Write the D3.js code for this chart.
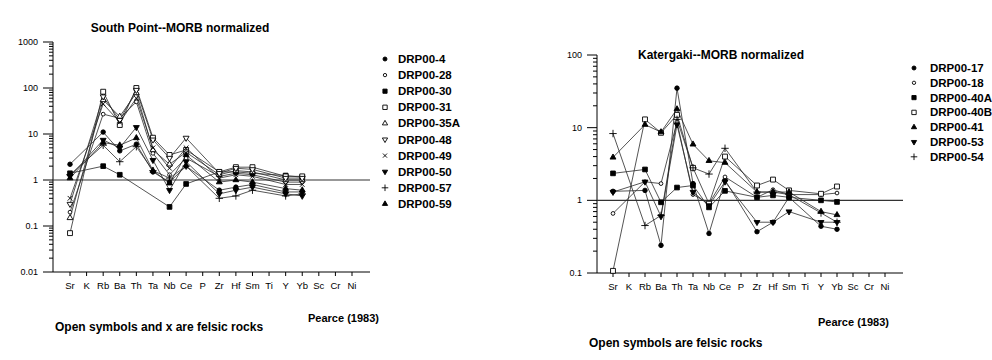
<!DOCTYPE html>
<html>
<head>
<meta charset="utf-8">
<script src="https://cdn.jsdelivr.net/npm/d3@7"></script>
<style>
  body { margin: 0; background: #fff; }
  text { font-family: "Liberation Sans", Arial, sans-serif; fill: #000; }
</style>
</head>
<body>
<div id="chart"></div>
<script>
// Element order along the x axis
const elements = ["Sr", "K", "Rb", "Ba", "Th", "Ta", "Nb", "Ce", "P", "Zr", "Hf", "Sm", "Ti", "Y", "Yb", "Sc", "Cr", "Ni"];
// Elements that were actually measured (values below follow this order)
const measured = ["Sr", "Rb", "Ba", "Th", "Ta", "Nb", "Ce", "Zr", "Hf", "Sm", "Y", "Yb"];

// South Point samples
const southNames = ["DRP00-4", "DRP00-28", "DRP00-30", "DRP00-31", "DRP00-35A", "DRP00-48", "DRP00-49", "DRP00-50", "DRP00-57", "DRP00-59"];
const southSymbols = ["circleF", "circleO", "squareF", "squareO", "triO", "downO", "x", "downF", "plus", "triF"];
const southValues = [
  [2.2, 11, 4.3, 6, 1.5, 0.9, 2.0, 0.6, 0.7, 0.8, 0.55, 0.55],
  [0.2, 27, 22, 50, 3.8, 1.3, 3.0, 1.2, 1.4, 1.3, 0.9, 0.9],
  [1.4, 2.0, 1.3, null, null, 0.26, 0.82, 1.5, 1.5, 1.4, 1.25, 1.15],
  [0.07, 83, 15.7, 100, 8.3, 3.5, 4.5, 1.5, 1.9, 1.9, 1.2, 1.2],
  [0.15, 55, 24, 78, 4.5, 2.2, 4.0, 1.3, 1.6, 1.5, 1.0, 1.0],
  [0.3, 65, 20, 90, 7.5, 3.0, 8.2, 1.4, 1.8, 1.7, 1.1, 1.1],
  [0.4, 45, 18, 60, 5, 1.8, 5, 1.1, 1.3, 1.2, 0.8, 0.8],
  [1.2, 7.4, 5.0, 14, 2.7, 0.6, 2.5, 0.5, 0.6, 0.7, 0.5, 0.45],
  [1.3, 5.7, 2.5, 5.3, 1.6, 1.1, 2.0, 0.4, 0.45, 0.6, 0.45, 0.5],
  [1.1, 6.5, 5.7, 8.2, 1.6, 0.85, 3.5, 0.9, 1.0, 0.9, 0.65, 0.6]
];
const southTicks = [0.01, 0.1, 1, 10, 100, 1000];

// Katergaki samples
const katNames = ["DRP00-17", "DRP00-18", "DRP00-40A", "DRP00-40B", "DRP00-41", "DRP00-53", "DRP00-54"];
const katSymbols = ["circleF", "circleO", "squareF", "squareO", "triF", "downF", "plus"];
const katValues = [
  [1.33, 1.37, 0.24, 35, 1.7, 0.35, 1.9, 0.37, 0.5, 1.1, 0.44, 0.4],
  [0.66, 1.8, 1.7, 12, 1.2, 0.9, 2.1, 1.1, 1.4, 1.2, 1.2, 1.26],
  [2.35, 2.66, 0.94, 1.5, 1.6, 0.8, 1.35, 1.1, 1.17, 1.1, 1.0, 0.95],
  [0.107, 13, 8.5, 15, 2.8, 0.9, 4.0, 1.6, 1.93, 1.37, 1.23, 1.55],
  [3.9, 11, 8.7, 18, 5.9, 3.5, 3.3, 1.3, 1.3, 1.3, 0.7, 0.63],
  [1.3, 1.8, 0.6, 11, 1.3, 0.85, 1.8, 0.5, 0.5, 0.7, 0.5, 0.5],
  [8.3, 0.45, 0.62, 13, 2.8, 2.3, 5.2, 1.3, 1.3, 1.2, 0.67, 0.5]
];
const katTicks = [0.1, 1, 10, 100];

const svg = d3.select("#chart").append("svg")
  .attr("width", 992).attr("height", 360);

// marker shapes: filled or open, d3 symbol type, size, rotation
const symbolDefs = {
  circleF: { type: d3.symbolCircle, size: 16, fill: true },
  circleO: { type: d3.symbolCircle, size: 11, fill: false },
  squareF: { type: d3.symbolSquare, size: 22, fill: true },
  squareO: { type: d3.symbolSquare, size: 24, fill: false },
  triF: { type: d3.symbolTriangle, size: 15, fill: true },
  triO: { type: d3.symbolTriangle, size: 15, fill: false },
  downF: { type: d3.symbolTriangle, size: 15, fill: true, rotate: 180 },
  downO: { type: d3.symbolTriangle, size: 15, fill: false, rotate: 180 },
  x: { type: d3.symbolX, size: 16, fill: false },
  plus: { type: d3.symbolPlus, size: 20, fill: false }
};

function drawMarker(g, key, x, y, scale) {
  const s = symbolDefs[key];
  g.append("path")
    .attr("d", d3.symbol().type(s.type).size(s.size * (scale || 1))())
    .attr("transform", `translate(${x},${y})` + (s.rotate ? ` rotate(${s.rotate})` : ""))
    .attr("fill", s.fill ? "#000" : "#fff")
    .attr("stroke", "#000")
    .attr("stroke-width", 0.9);
}

function drawChart(cfg) {
  const g = svg.append("g");
  const x = d3.scalePoint().domain(elements).range(cfg.xRange);
  const y = d3.scaleLog().domain(cfg.yDomain).range(cfg.yRange);
  const axisX = cfg.axisX;
  const endX = cfg.xRange[1] + 18;

  // title
  g.append("text").attr("x", cfg.titleX).attr("y", cfg.titleY)
    .attr("text-anchor", "middle").style("font-size", "12px").style("font-weight", "bold")
    .text(cfg.title);

  // y axis with log minor ticks
  g.append("line").attr("x1", axisX).attr("x2", axisX)
    .attr("y1", cfg.yRange[1]).attr("y2", cfg.yRange[0]).attr("stroke", "#000");
  const lo = Math.log10(cfg.yDomain[0]), hi = Math.log10(cfg.yDomain[1]);
  for (let e = lo; e < hi; e++) {
    for (let m = 2; m <= 9; m++) {
      const yy = y(m * Math.pow(10, e));
      g.append("line").attr("x1", axisX - 4).attr("x2", axisX)
        .attr("y1", yy).attr("y2", yy).attr("stroke", "#000");
    }
  }
  cfg.ticks.forEach((t) => {
    g.append("line").attr("x1", axisX - 10).attr("x2", axisX)
      .attr("y1", y(t)).attr("y2", y(t)).attr("stroke", "#000");
    g.append("text").attr("x", axisX - 15).attr("y", y(t) + 3)
      .attr("text-anchor", "end").style("font-size", "9px").text(t);
  });

  // x axis
  g.append("line").attr("x1", axisX).attr("x2", endX)
    .attr("y1", cfg.yRange[0]).attr("y2", cfg.yRange[0]).attr("stroke", "#000");
  elements.forEach((el) => {
    g.append("line").attr("x1", x(el)).attr("x2", x(el))
      .attr("y1", cfg.yRange[0]).attr("y2", cfg.yRange[0] + 4).attr("stroke", "#000");
    g.append("text").attr("x", x(el)).attr("y", cfg.yRange[0] + 17)
      .attr("text-anchor", "middle").style("font-size", "9.5px").text(el);
  });

  // reference line at 1
  g.append("line").attr("x1", axisX).attr("x2", endX)
    .attr("y1", y(1)).attr("y2", y(1)).attr("stroke", "#333").attr("stroke-width", 1.2);

  const line = d3.line().x((d) => x(d.el)).y((d) => y(d.v));

  cfg.values.forEach((vals) => {
    const pts = measured.map((el, j) => ({ el: el, v: vals[j] })).filter((d) => d.v != null);
    g.append("path").attr("d", line(pts))
      .attr("fill", "none").attr("stroke", "#2a2a2a").attr("stroke-width", 0.8);
  });
  cfg.values.forEach((vals, i) => {
    measured.forEach((el, j) => {
      if (vals[j] != null) drawMarker(g, cfg.symbols[i], x(el), y(vals[j]));
    });
  });

  // legend
  cfg.names.forEach((name, i) => {
    const ly = cfg.legendY + i * cfg.legendStep;
    drawMarker(g, cfg.symbols[i], cfg.legendX, ly - 4, 0.8);
    g.append("text").attr("x", cfg.legendX + cfg.legendGap).attr("y", ly)
      .style("font-size", "11.5px").style("font-weight", "bold").text(name);
  });

  g.append("text").attr("x", cfg.noteX).attr("y", cfg.noteY)
    .style("font-size", "12px").style("font-weight", "bold").text(cfg.note);
  g.append("text").attr("x", cfg.refX).attr("y", cfg.refY)
    .style("font-size", "11px").style("font-weight", "bold").text("Pearce (1983)");
}

drawChart({
  title: "South Point--MORB normalized", titleX: 180, titleY: 32,
  xRange: [70, 352], yDomain: [0.01, 1000], yRange: [272, 42], axisX: 53,
  ticks: southTicks, names: southNames, symbols: southSymbols, values: southValues,
  legendX: 385, legendGap: 13, legendY: 63, legendStep: 16.1,
  note: "Open symbols and x are felsic rocks", noteX: 55, noteY: 331,
  refX: 308, refY: 322
});

drawChart({
  title: "Katergaki--MORB normalized", titleX: 721, titleY: 59,
  xRange: [613, 885], yDomain: [0.1, 100], yRange: [273, 55], axisX: 597,
  ticks: katTicks, names: katNames, symbols: katSymbols, values: katValues,
  legendX: 914, legendGap: 16, legendY: 72, legendStep: 14.8,
  note: "Open symbols are felsic rocks", noteX: 589, noteY: 347,
  refX: 818, refY: 326
});
</script>
</body>
</html>
